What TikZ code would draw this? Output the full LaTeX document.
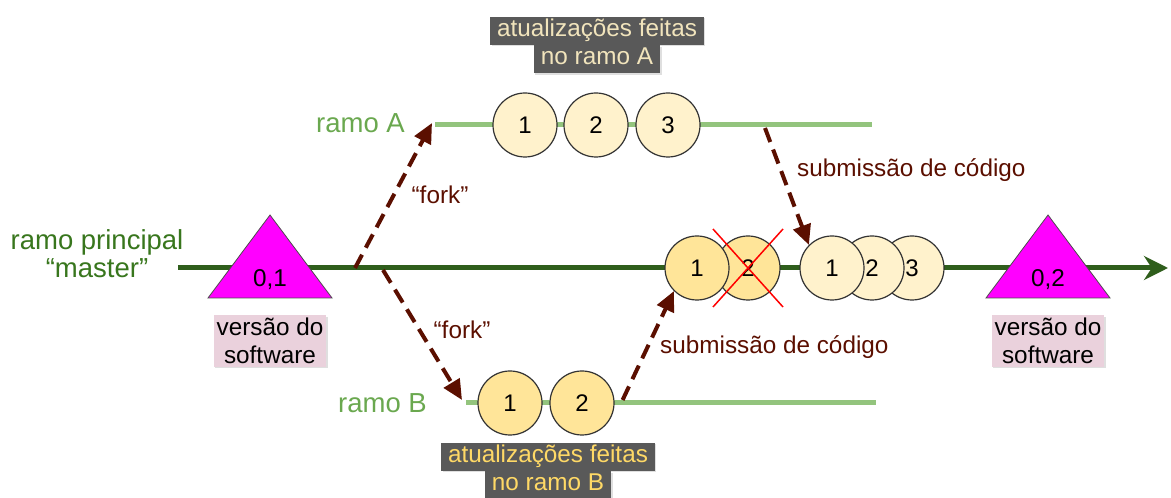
\documentclass[tikz,border=0pt]{standalone}
\usepackage{fontspec}
\setmainfont{Liberation Sans}
\usetikzlibrary{arrows.meta,positioning,shadows}
\definecolor{trunk}{HTML}{2F5E1C}
\definecolor{trunktxt}{HTML}{38761D}
\definecolor{twig}{HTML}{93C47D}
\definecolor{twigtxt}{HTML}{6AA84F}
\definecolor{mergered}{HTML}{5B0F00}
\definecolor{commitA}{HTML}{FFF2CC}
\definecolor{commitB}{HTML}{FFE599}
\definecolor{notegray}{HTML}{595959}
\definecolor{notetxtA}{HTML}{F1E4BC}
\definecolor{notetxtB}{HTML}{FFD966}
\definecolor{tagpink}{HTML}{EAD1DC}
\definecolor{release}{HTML}{FF00FF}
\begin{document}
\begin{tikzpicture}[
            x=1pt, y=1pt,
            txt/.style={font=\fontsize{24.3}{28}\selectfont, inner sep=0pt},
            commit/.style={circle, draw=black!80, line width=1.2pt, minimum size=64pt, inner sep=0pt, font=\fontsize{24}{28}\selectfont},
            fork/.style={draw=mergered, line width=4pt, dash pattern=on 15pt off 8pt, -{Triangle[length=20pt,width=18pt]}},
            forklbl/.style={txt, text=mergered},
            note/.style={txt, fill=notegray, inner xsep=7pt, minimum height=28pt, text depth=6pt,
                         drop shadow={shadow xshift=1.5pt, shadow yshift=-1.5pt, opacity=0.25}},
            tag/.style={txt, fill=tagpink, align=center, inner xsep=3pt, inner ysep=3pt,
                        drop shadow={shadow xshift=1.5pt, shadow yshift=-1.5pt, opacity=0.25}},
            relmark/.style={fill=release, draw=black!70, line width=0.8pt}
        ]
           \useasboundingbox (0,0) rectangle (1171,498);

           % ramo principal
           \coordinate (m0) at (178,230);
           \coordinate (mend) at (1168,230);
           \draw[trunk, line width=5pt, -{Stealth[length=24pt,width=24pt]}] (m0) -- (mend);
           \node[txt, text=trunktxt, align=center, font=\fontsize{27.5}{28}\selectfont] (main) at (97,244) {ramo principal\\``master''};

           % versoes
           \draw[relmark] (208,200) -- (270,283) -- (332,200) -- cycle;
           \node[txt] (v1) at (270,218) {0,1};
           \node[tag] (tag1) at (270,157) {versão do\\software};
           \draw[relmark] (986,200) -- (1048,283) -- (1110,200) -- cycle;
           \node[txt] (v2) at (1048,218) {0,2};
           \node[tag] (tag2) at (1048,157) {versão do\\software};

           % ramo A
           \coordinate (a0) at (435,373);
           \coordinate (aend) at (872,373);
           \draw[twig, line width=5pt] (a0) -- (aend);
           \node[txt, text=twigtxt, font=\fontsize{27.5}{28}\selectfont, anchor=east] (ramoA) at (405,375) {ramo A};
           \node[commit, fill=commitA] (a1) at (525,373) {1};
           \node[commit, fill=commitA] (a2) at (596,373) {2};
           \node[commit, fill=commitA] (a3) at (668,373) {3};
           \node[note, text=notetxtA] (notA1) at (597,467) {atualizações feitas};
           \node[note, text=notetxtA, below=0pt of notA1] (notA2) {no ramo A};

           % ramo B
           \coordinate (b0) at (466,95);
           \coordinate (bend) at (876,95);
           \draw[twig, line width=5pt] (b0) -- (bend);
           \node[txt, text=twigtxt, font=\fontsize{27.5}{28}\selectfont, anchor=east] (ramoB) at (427,95) {ramo B};
           \node[commit, fill=commitB] (b1) at (510,95) {1};
           \node[commit, fill=commitB] (b2) at (582,95) {2};
           \node[note, text=notetxtB] (notB1) at (548,41) {atualizações feitas};
           \node[note, text=notetxtB, below=0pt of notB1] (notB2) {no ramo B};

           % commits no master
           \node[commit, fill=commitB] (m2) at (748,230) {2};
           \node[commit, fill=commitB] (m1) at (697,230) {1};
           \draw[red, line width=1.5pt] (m2.center) ++(-35,39) -- ++(70,-78);
           \draw[red, line width=1.5pt] (m2.center) ++(35,39) -- ++(-70,-78);
           \node[commit, fill=commitA] (ma3) at (912,230) {3};
           \node[commit, fill=commitA] (ma2) at (872,230) {2};
           \node[commit, fill=commitA] (ma1) at (832,230) {1};

           % fork e submissao
           \coordinate (fa) at (355,230);
           \coordinate (fb) at (383,228);
           \coordinate (sa) at (765,370);
           \draw[fork] (fa) -- ([xshift=-3pt,yshift=2pt]a0);
           \draw[fork] (fb) -- ([xshift=-4pt,yshift=3pt]b0);
           \draw[fork] ([xshift=8pt,yshift=3pt]b2.east) -- (m1.south west);
           \draw[fork] (sa) -- (ma1.north west);
           \node[forklbl] (fkA) at (440,303) {``fork''};
           \node[forklbl] (fkB) at (462,168) {``fork''};
           \node[forklbl, anchor=west] (subA) at (797,328) {submissão de código};
           \node[forklbl, anchor=west] (subB) at (660,151) {submissão de código};
        \end{tikzpicture}
\end{document}
